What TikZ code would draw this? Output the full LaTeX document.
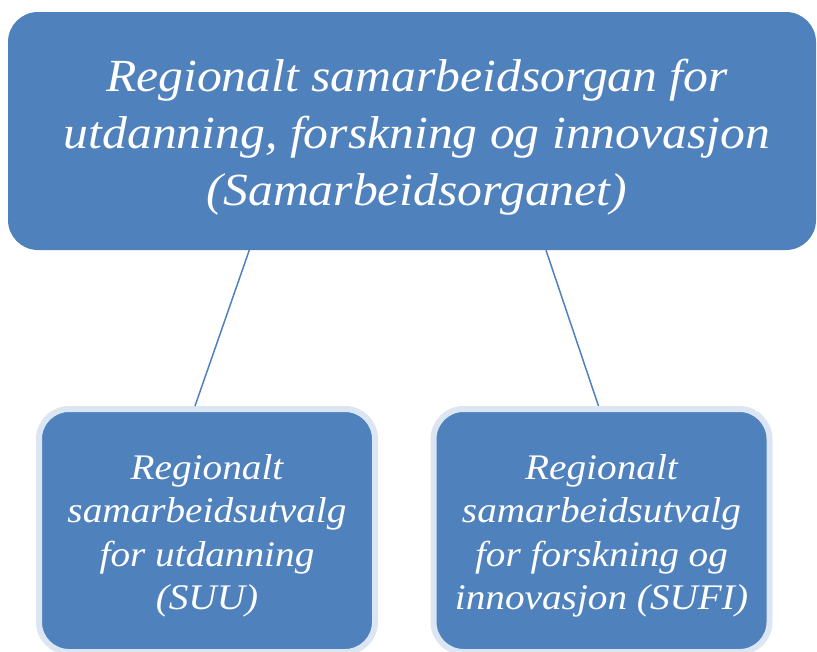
\documentclass[tikz,border=0pt]{standalone}
\usepackage{fontspec}
\setmainfont{Liberation Serif}
\usetikzlibrary{calc}

\definecolor{boxblue}{HTML}{4F81BD}
\definecolor{halo}{HTML}{DCE6F2}

\tikzset{
  orgbox/.style={fill=boxblue, rounded corners=30pt, inner sep=0pt},
  subbox/.style={orgbox, draw=halo, line width=6pt,
    minimum width=336pt, minimum height=243pt},
  boxtext/.style={text=white, align=center},
  subtext/.style={boxtext,
    font=\fontsize{36}{43.5}\selectfont\itshape\addfontfeature{FakeStretch=1.09}},
  link/.style={draw=boxblue, line width=1.5pt}
}

\begin{document}
\begin{tikzpicture}[x=1pt,y=-1pt]
\useasboundingbox (0,0) rectangle (817,651);
% top box
\node[orgbox, minimum width=808pt, minimum height=238pt] (top) at (412,131) {};
\node[boxtext,
  font=\fontsize{46}{57}\selectfont\itshape\addfontfeature{FakeStretch=1.08}]
  (toptext) at (417,137)
  {Regionalt samarbeidsorgan for\\utdanning, forskning og innovasjon\\(Samarbeidsorganet)};
% sub boxes
\node[subbox] (suu) at (207,530.5) {};
\node[subtext] (suutext) at (207,536)
  {Regionalt\\samarbeidsutvalg\\for utdanning\\(SUU)};
\node[subbox] (sufi) at (601.5,530.5) {};
\node[subtext] (sufitext) at (601.5,536)
  {Regionalt\\samarbeidsutvalg\\for forskning og\\innovasjon (SUFI)};
% lines
\coordinate (topL) at (257,228);
\draw[link] (topL) -- ($(suu.north)+(-12,0)$);
\draw[link] ($(top.south)+(134,0)$) -- ($(sufi.north)+(-3,0)$);
\end{tikzpicture}
\end{document}
